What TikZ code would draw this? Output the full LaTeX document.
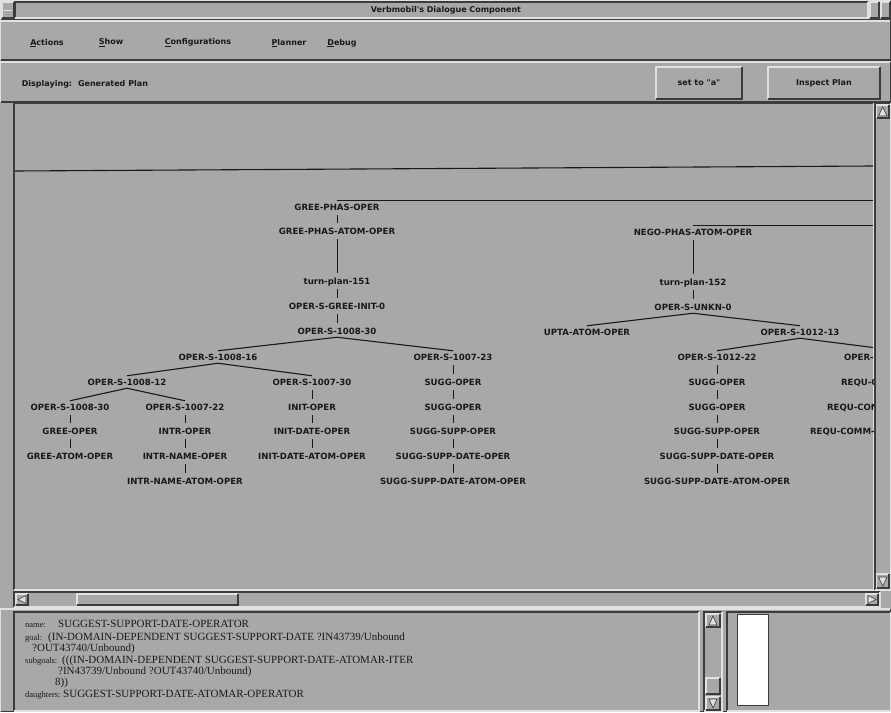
\documentclass[tikz,border=0pt]{standalone}
\usepackage{fontspec}
\setmainfont{Liberation Serif}
\newfontfamily\uifont{DejaVu Sans}
\newcommand\treefont{\uifont\bfseries\fontsize{8.6}{10}\selectfont}
\newcommand\menufont{\uifont\bfseries\fontsize{8}{9}\selectfont}
\newcommand\infofont{\fontsize{11}{12}\selectfont}
\newcommand\keyfont{\fontsize{8.5}{10}\selectfont}
\definecolor{bgc}{RGB}{168,168,168}
\definecolor{hlc}{RGB}{225,225,225}
\definecolor{shc}{RGB}{60,60,60}
\definecolor{ink}{RGB}{25,25,25}
\newcommand\uiRaised[4]{%
  \draw[hlc,line width=1.2pt] (#1,#4) -- (#1,#2) -- (#3,#2);
  \draw[shc,line width=1.2pt] (#1,#4) -- (#3,#4) -- (#3,#2);}
\newcommand\uiSunken[4]{%
  \draw[shc,line width=1.2pt] (#1,#4) -- (#1,#2) -- (#3,#2);
  \draw[hlc,line width=1.2pt] (#1,#4) -- (#3,#4) -- (#3,#2);}
\begin{document}
\begin{tikzpicture}[x=1pt,y=-1pt,
  tn/.style={font=\treefont, inner sep=1pt, outer sep=2pt, text height=6.5pt, text depth=0pt, text=ink},
  tick/.style={line width=1pt, draw=ink, shorten <=2pt, shorten >=2pt},
  branch/.style={line width=1.1pt, draw=ink},
  mtext/.style={font=\menufont, text=ink, inner sep=0pt},
  info/.style={font=\infofont, text=ink, inner sep=0pt, anchor=base west},
  key/.style={font=\keyfont, text=ink, inner sep=0pt, anchor=base west},
  arrowbtn/.style={fill=hlc, draw=shc, line width=0.6pt}]
\useasboundingbox (0,0) rectangle (891,712);
\fill[bgc] (0,0) rectangle (891,712);

% ---------- title bar ----------
\uiRaised{0.6}{0.6}{890.4}{20}
\uiRaised{2}{2}{14}{18}
\draw[hlc,line width=1pt] (4,10) -- (12,10);
\uiSunken{15}{2}{868}{18}
\uiRaised{870}{2}{879}{18}
\uiRaised{881}{2}{890}{18}
\node[mtext] (title) at (446,10) {Verbmobil's Dialogue Component};

% ---------- menu bar ----------
\uiRaised{0.6}{21}{890.4}{60}
\node[mtext] (mActions) at (47,43) {\underline{A}ctions};
\node[mtext] (mShow) at (111,43) {\underline{S}how};
\node[mtext] (mConf) at (198,43) {\underline{C}onfigurations};
\node[mtext] (mPlanner) at (289,43) {\underline{P}lanner};
\node[mtext] (mDebug) at (342,43) {\underline{D}ebug};

% ---------- displaying row ----------
\uiRaised{0.6}{62}{890.4}{102}
\node[mtext] (lDisp) at (47,84) {Displaying:};
\node[mtext] (lGen) at (113,84) {Generated Plan};
\uiRaised{656}{67}{742}{99}
\node[mtext] (bSet) at (699,83) {set to "a"};
\uiRaised{768}{67}{880}{99}
\node[mtext] (bInsp) at (824,83) {Inspect Plan};

% ---------- canvas frame ----------
\uiSunken{14}{103}{874}{590}
% vertical scrollbar
\uiSunken{875}{103}{890.4}{590}
\uiRaised{876.5}{105}{889}{118}
\fill[arrowbtn] (882.7,107) -- (878.5,116) -- (887,116) -- cycle;
\uiRaised{876.5}{574}{889}{588}
\fill[arrowbtn] (882.7,586) -- (878.5,577) -- (887,577) -- cycle;

% ---------- tree (clipped to canvas) ----------
\begin{scope}
\clip (15,104) rectangle (873,589);
\coordinate (lineL) at (15,171);
\coordinate (lineR) at (873,166);
\draw[branch] (lineL) -- (lineR);

% left tree
\node[tn] (gpo) at (337,207) {GREE-PHAS-OPER};
\node[tn] (gpao) at (337,231) {GREE-PHAS-ATOM-OPER};
\node[tn] (tp151) at (337,281) {turn-plan-151};
\node[tn] (osgi) at (337,306) {OPER-S-GREE-INIT-0};
\node[tn] (a830) at (337,331) {OPER-S-1008-30};
\node[tn] (a816) at (218,357) {OPER-S-1008-16};
\node[tn] (a723) at (453,357) {OPER-S-1007-23};
\node[tn] (a812) at (127,382) {OPER-S-1008-12};
\node[tn] (a730) at (312,382) {OPER-S-1007-30};
\node[tn] (b830) at (70,407) {OPER-S-1008-30};
\node[tn] (a722) at (185,407) {OPER-S-1007-22};
\node[tn] (gree) at (70,431) {GREE-OPER};
\node[tn] (greea) at (70,456) {GREE-ATOM-OPER};
\node[tn] (intr) at (185,431) {INTR-OPER};
\node[tn] (intrn) at (185,456) {INTR-NAME-OPER};
\node[tn] (intrna) at (185,481) {INTR-NAME-ATOM-OPER};
\node[tn] (init) at (312,407) {INIT-OPER};
\node[tn] (initd) at (312,431) {INIT-DATE-OPER};
\node[tn] (initda) at (312,456) {INIT-DATE-ATOM-OPER};
\node[tn] (sa1) at (453,382) {SUGG-OPER};
\node[tn] (sa2) at (453,407) {SUGG-OPER};
\node[tn] (sa3) at (453,431) {SUGG-SUPP-OPER};
\node[tn] (sa4) at (453,456) {SUGG-SUPP-DATE-OPER};
\node[tn] (sa5) at (453,481) {SUGG-SUPP-DATE-ATOM-OPER};

\coordinate (gpoR) at (873,197);
\draw[branch] (gpo.north) -- (gpo.north -| gpoR);
\draw[tick] (gpo) -- (gpao);
\draw[tick] (gpao) -- (tp151);
\draw[tick] (tp151) -- (osgi);
\draw[tick] (osgi) -- (a830);
\draw[branch] (a830.south) -- (a816.north);
\draw[branch] (a830.south) -- (a723.north);
\draw[branch] (a816.south) -- (a812.north);
\draw[branch] (a816.south) -- (a730.north);
\draw[branch] (a812.south) -- (b830.north);
\draw[branch] (a812.south) -- (a722.north);
\draw[tick] (b830) -- (gree);
\draw[tick] (gree) -- (greea);
\draw[tick] (a722) -- (intr);
\draw[tick] (intr) -- (intrn);
\draw[tick] (intrn) -- (intrna);
\draw[tick] (a730) -- (init);
\draw[tick] (init) -- (initd);
\draw[tick] (initd) -- (initda);
\draw[tick] (a723) -- (sa1);
\draw[tick] (sa1) -- (sa2);
\draw[tick] (sa2) -- (sa3);
\draw[tick] (sa3) -- (sa4);
\draw[tick] (sa4) -- (sa5);

% right tree
\node[tn] (npao) at (693,232) {NEGO-PHAS-ATOM-OPER};
\node[tn] (tp152) at (693,282) {turn-plan-152};
\node[tn] (osu) at (693,307) {OPER-S-UNKN-0};
\node[tn] (upta) at (587,332) {UPTA-ATOM-OPER};
\node[tn] (c1213) at (800,332) {OPER-S-1012-13};
\node[tn] (c1222) at (717,357) {OPER-S-1012-22};
\node[tn] (sb1) at (717,382) {SUGG-OPER};
\node[tn] (sb2) at (717,407) {SUGG-OPER};
\node[tn] (sb3) at (717,431) {SUGG-SUPP-OPER};
\node[tn] (sb4) at (717,456) {SUGG-SUPP-DATE-OPER};
\node[tn] (sb5) at (717,481) {SUGG-SUPP-DATE-ATOM-OPER};
\node[tn, anchor=west] (r1) at (841,357) {OPER-};
\node[tn, anchor=west] (r2) at (838,382) {REQU-C};
\node[tn, anchor=west] (r3) at (824,407) {REQU-CON};
\node[tn, anchor=west] (r4) at (807,431) {REQU-COMM-};
\coordinate (rchild) at (885,349);

\coordinate (npaoR) at (873,222);
\draw[branch] (npao.north) -- (npao.north -| npaoR);
\draw[tick] (npao) -- (tp152);
\draw[tick] (tp152) -- (osu);
\draw[branch] (osu.south) -- (upta.north);
\draw[branch] (osu.south) -- (c1213.north);
\draw[branch] (c1213.south) -- (c1222.north);
\draw[branch] (c1213.south) -- (rchild);
\draw[tick] (c1222) -- (sb1);
\draw[tick] (sb1) -- (sb2);
\draw[tick] (sb2) -- (sb3);
\draw[tick] (sb3) -- (sb4);
\draw[tick] (sb4) -- (sb5);
\end{scope}

% ---------- horizontal scrollbar ----------
\uiSunken{14}{592}{880}{607}
\uiRaised{16}{594}{28}{605}
\fill[arrowbtn] (18,599.5) -- (26,595.5) -- (26,603.5) -- cycle;
\uiRaised{77}{594}{238}{605}
\uiRaised{866}{594}{878}{605}
\fill[arrowbtn] (876,599.5) -- (868,595.5) -- (868,603.5) -- cycle;

% ---------- bottom panels ----------
\uiRaised{0.6}{609}{890.4}{711.4}
\uiSunken{14}{612}{699}{711}
\begin{scope}
\clip (15,613) rectangle (698,710);
\node[key] (k1) at (25,627) {name:};
\node[info] (v1) at (58,627) {SUGGEST-SUPPORT-DATE-OPERATOR};
\node[key] (k2) at (25,640) {goal:};
\node[info] (v2) at (48,640) {(IN-DOMAIN-DEPENDENT SUGGEST-SUPPORT-DATE ?IN43739/Unbound};
\node[info] (v3) at (32,651) {?OUT43740/Unbound)};
\node[key] (k4) at (25,663) {subgoals:};
\node[info] (v4) at (62,663) {(((IN-DOMAIN-DEPENDENT SUGGEST-SUPPORT-DATE-ATOMAR-ITER};
\node[info] (v5) at (58,674) {?IN43739/Unbound ?OUT43740/Unbound)};
\node[info] (v6) at (55,685) {8))};
\node[key] (k7) at (25,697) {daughters:};
\node[info] (v7) at (63,697) {SUGGEST-SUPPORT-DATE-ATOMAR-OPERATOR};
\end{scope}
% small scrollbar
\uiSunken{704}{612}{722}{711}
\uiRaised{706}{614}{720}{627}
\fill[arrowbtn] (713,616) -- (709,625) -- (717,625) -- cycle;
\uiRaised{706}{678}{720}{694}
\uiRaised{706}{697}{720}{710}
\fill[arrowbtn] (713,708) -- (709,699) -- (717,699) -- cycle;
% right panel
\uiSunken{727}{612}{890.4}{711}
\fill[white, draw=shc, line width=0.8pt] (737,614) rectangle (768,705);
\end{tikzpicture}
\end{document}
